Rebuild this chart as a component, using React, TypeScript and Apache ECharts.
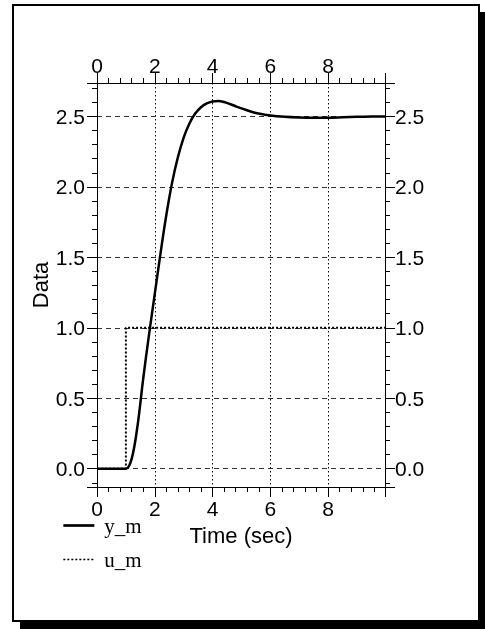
import React, { useEffect, useRef } from "react";
import * as echarts from "echarts";

const timeSec = [0, 0.9, 1.0, 1.2, 1.4, 1.6, 1.8, 2.0, 2.2, 2.4, 2.6, 2.8, 3.0, 3.2, 3.4, 3.6, 3.8, 4.0, 4.2, 4.4, 4.6, 4.8, 5.0, 5.5, 6.0, 6.5, 7.0, 7.5, 8.0, 8.5, 9.0, 9.5, 9.97];
const yM = [0, 0, 0, 0.07, 0.3, 0.64, 0.95, 1.24, 1.53, 1.8, 2.03, 2.21, 2.35, 2.45, 2.52, 2.565, 2.592, 2.606, 2.61, 2.602, 2.588, 2.572, 2.557, 2.524, 2.507, 2.497, 2.492, 2.49, 2.491, 2.494, 2.497, 2.499, 2.5];
const uTime = [0, 1.0, 1.0, 9.97];
const uM = [0, 0, 1, 1];
const seriesNames = ["y_m", "u_m"];

const X_MIN = 0;
const X_MAX = 9.97;
const Y_MIN = -0.13;
const Y_MAX = 2.737;

export default function App() {
  const ref = useRef<HTMLDivElement>(null);
  useEffect(() => {
    if (!ref.current) return;
    const chart = echarts.init(ref.current, null, { renderer: "svg" });
    const font = "'Liberation Sans', Arial, sans-serif";
    const tickLabel = { color: "#000", fontFamily: font, fontSize: 21 };
    const axisLine = { show: true, onZero: false, lineStyle: { color: "#000", width: 1 } };
    const baseX = {
      type: "value" as const,
      min: X_MIN,
      max: X_MAX,
      minInterval: 2,
      maxInterval: 2,
      axisLine,
      axisTick: { show: true, length: 10, lineStyle: { color: "#000" } },
      minorTick: { show: true, splitNumber: 5, length: 5, lineStyle: { color: "#000" } },
    };
    const baseY = {
      type: "value" as const,
      min: Y_MIN,
      max: Y_MAX,
      minInterval: 0.5,
      maxInterval: 0.5,
      axisLine,
      axisTick: { show: true, length: 10, lineStyle: { color: "#000" } },
      minorTick: { show: true, splitNumber: 5, length: 5, lineStyle: { color: "#000" } },
    };
    chart.setOption({
      animation: false,
      backgroundColor: "transparent",
      graphic: [
        { type: "rect", z: -20, shape: { x: 20, y: 12, width: 470, height: 620 }, style: { fill: "#000" } },
        { type: "rect", z: -19, shape: { x: 13, y: 5, width: 466, height: 616 }, style: { fill: "#fff", stroke: "#000", lineWidth: 2 } },
      ],
      grid: { left: 97, top: 83, right: 100, bottom: 142, containLabel: false },
      legend: {
        orient: "vertical",
        left: 57,
        top: 510,
        itemWidth: 31,
        itemHeight: 14,
        itemGap: 13,
        itemStyle: { opacity: 0 },
        textStyle: { color: "#000", fontFamily: "'Liberation Serif', 'Times New Roman', serif", fontSize: 21, padding: [0, 0, 0, 5] },
        data: [
          { name: seriesNames[0], itemStyle: { opacity: 0 }, lineStyle: { width: 2.7 } },
          { name: seriesNames[1], itemStyle: { opacity: 0 }, lineStyle: { width: 1.5 } },
        ],
      },
      xAxis: [
        {
          ...baseX,
          position: "bottom",
          name: "Time (sec)",
          nameLocation: "middle",
          nameGap: 37,
          nameMoveOverlap: false,
          nameTextStyle: { color: "#000", fontFamily: font, fontSize: 22 },
          axisLabel: { ...tickLabel, margin: 11, showMinLabel: true, showMaxLabel: false, formatter: (v: number) => String(v) },
          splitLine: { show: true, lineStyle: { color: "#000", type: [1.5, 2.5], width: 1 } },
        },
        {
          ...baseX,
          position: "top",
          axisLabel: { ...tickLabel, margin: 7, showMinLabel: true, showMaxLabel: false, formatter: (v: number) => String(v) },
          splitLine: { show: false },
        },
      ],
      yAxis: [
        {
          ...baseY,
          position: "left",
          name: "Data",
          nameLocation: "middle",
          nameGap: 46,
          nameMoveOverlap: false,
          nameRotate: 90,
          nameTextStyle: { color: "#000", fontFamily: font, fontSize: 22 },
          axisLabel: { ...tickLabel, margin: 12, showMinLabel: false, showMaxLabel: false, formatter: (v: number) => v.toFixed(1) },
          splitLine: { show: true, lineStyle: { color: "#333", type: [5, 4], width: 1 } },
        },
        {
          ...baseY,
          position: "right",
          axisLabel: { ...tickLabel, margin: 10, showMinLabel: false, showMaxLabel: false, formatter: (v: number) => v.toFixed(1) },
          splitLine: { show: false },
        },
      ],
      series: [
        {
          name: seriesNames[0],
          type: "line",
          xAxisIndex: 0,
          yAxisIndex: 0,
          data: timeSec.map((t, i) => [t, yM[i]]),
          smooth: 0.35,
          symbol: "none",
          lineStyle: { color: "#000", width: 2.5, type: "solid" },
          itemStyle: { color: "#000" },
          z: 4,
        },
        {
          name: seriesNames[1],
          type: "line",
          xAxisIndex: 0,
          yAxisIndex: 0,
          data: uTime.map((t, i) => [t, uM[i]]),
          symbol: "none",
          lineStyle: { color: "#000", width: 2, type: [2, 2] },
          itemStyle: { color: "#000" },
          z: 3,
        },
      ],
    });
    return () => chart.dispose();
  }, []);
  return <div ref={ref} style={{ position: "fixed", left: 0, top: 0, width: 485, height: 629 }} />;
}
